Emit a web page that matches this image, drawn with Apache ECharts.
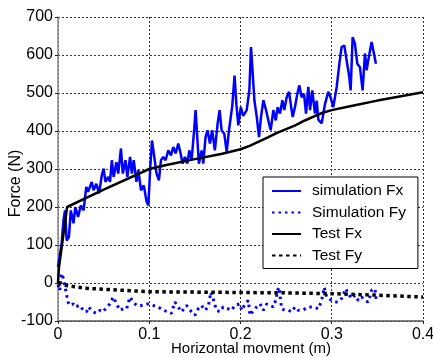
<!DOCTYPE html>
<html>
<head>
<meta charset="utf-8">
<script src="https://cdn.jsdelivr.net/npm/echarts@6/dist/echarts.min.js"></script>
<style>
  html, body { margin: 0; padding: 0; background: #fff; }
  #chart { width: 433px; height: 358px; }
</style>
</head>
<body>
<div id="chart"></div>
<script>
// Horizontal movement (m) and measured / simulated forces (N)
var simFxX = [0.000,0.004,0.006,0.0077,0.0095,0.012,0.014,0.017,0.019,0.022,0.025,0.028,0.031,0.033,0.037,0.039,0.042,0.045,0.048,0.050,0.052,0.055,0.057,0.059,0.061,0.064,0.066,0.069,0.071,0.074,0.076,0.079,0.081,0.083,0.086,0.088,0.091,0.094,0.097,0.099,0.101,0.103,0.1055,0.108,0.1106,0.1128,0.1154,0.1179,0.1209,0.1238,0.1263,0.1289,0.1318,0.1344,0.1365,0.1391,0.1417,0.1439,0.1464,0.149,0.1508,0.1526,0.1544,0.1574,0.1592,0.1617,0.1639,0.1665,0.169,0.1719,0.1749,0.1771,0.1793,0.1822,0.1849,0.1873,0.1909,0.1935,0.1955,0.1976,0.2003,0.203,0.2068,0.2097,0.2115,0.2134,0.2152,0.2178,0.2203,0.2225,0.2251,0.228,0.2305,0.2331,0.236,0.2386,0.2407,0.2433,0.2459,0.248,0.2506,0.2532,0.255,0.2572,0.2597,0.2623,0.2645,0.267,0.2696,0.2718,0.2743,0.2762,0.2787,0.2816,0.2835,0.2853,0.289,0.2925,0.2962,0.2985,0.3017,0.3054,0.3085,0.3108,0.3138,0.3163,0.3192,0.3207,0.3229,0.3254,0.328,0.3309,0.3338,0.3364,0.3382,0.34,0.3437,0.3462,0.3484];
var simFxY = [42,104,165,191,112,121,191,157,200,174,204,191,253,240,266,244,261,236,283,301,266,279,266,323,279,318,288,354,288,323,279,332,288,323,266,297,244,257,215,204,300,375,332,288,270,323,332,323,349,336,358,341,367,341,314,332,314,349,323,397,455,384,314,349,314,384,402,367,402,349,419,455,402,393,345,400,465,546,470,415,463,440,455,507,621,551,481,437,384,437,481,455,428,402,455,428,463,446,481,455,489,503,472,437,463,498,520,489,498,446,516,455,507,446,480,430,420,470,503,490,463,516,580,621,625,586,542,507,647,630,577,568,507,604,560,586,634,604,577];

var simFyX = [0.000,0.002,0.0037,0.0055,0.0077,0.0095,0.011,0.013,0.0168,0.0186,0.024,0.0277,0.0314,0.0332,0.0387,0.0423,0.046,0.0496,0.0533,0.0569,0.0606,0.0642,0.0679,0.0715,0.0752,0.0788,0.0825,0.0861,0.0916,0.097,0.1007,0.1044,0.1098,0.1153,0.1208,0.1244,0.1281,0.1317,0.1354,0.1409,0.1463,0.15,0.1536,0.1573,0.1609,0.1646,0.1675,0.17,0.1737,0.1774,0.181,0.1865,0.1902,0.1938,0.1993,0.2013,0.205,0.2086,0.2104,0.2141,0.2177,0.2214,0.225,0.2287,0.2323,0.236,0.2385,0.2407,0.2422,0.2451,0.2488,0.2524,0.2561,0.2597,0.2634,0.267,0.2707,0.2743,0.2798,0.2853,0.2889,0.2918,0.2944,0.2998,0.3035,0.3072,0.3108,0.3152,0.3181,0.3218,0.3254,0.3291,0.3327,0.3364,0.34,0.3437,0.3473,0.349];
var simFyY = [-5,-20,25,15,-10,-32,-50,-59,-55,-63,-59,-72,-76,-63,-76,-80,-72,-76,-63,-55,-37,-55,-72,-68,-68,-37,-50,-59,-59,-55,-55,-59,-63,-72,-76,-80,-50,-63,-76,-59,-76,-85,-68,-59,-72,-63,-24,-41,-72,-76,-63,-68,-72,-59,-55,-72,-55,-46,-85,-72,-63,-55,-72,-55,-59,-63,-46,-19,-11,-68,-72,-72,-76,-63,-72,-72,-68,-63,-63,-68,-46,-11,-37,-46,-50,-50,-41,-15,-28,-41,-32,-46,-37,-46,-50,-19,-15,-50];

var testFxX = [0, 0.001, 0.01, 0.05, 0.1, 0.12, 0.15, 0.18, 0.2, 0.21, 0.22, 0.23, 0.24, 0.25, 0.26, 0.27, 0.28, 0.29, 0.3, 0.32, 0.35, 0.4];
var testFxY = [0, 40, 200, 246, 300, 311, 326, 340, 352, 361, 372, 383, 395, 405, 415, 427, 438, 448, 455, 465, 480, 502];

var testFyX = [0, 0.01, 0.03, 0.07, 0.1, 0.2, 0.25, 0.3, 0.35, 0.4];
var testFyY = [0, -7, -14, -19, -23, -25, -26, -28, -32, -37];

var xTicks = [0, 0.1, 0.2, 0.3, 0.4];
var yTicks = [-100, 0, 100, 200, 300, 400, 500, 600, 700];

var seriesNames = ['simulation Fx', 'Simulation Fy', 'Test Fx', 'Test Fy'];

function pairs(xs, ys) {
  return xs.map(function (x, i) { return [x, ys[i]]; });
}

var FONT = '"Liberation Sans", Arial, sans-serif';
var chart = echarts.init(document.getElementById('chart'), null, { renderer: 'canvas' });

var gridLine = { show: true, lineStyle: { color: '#333', width: 1, type: [2, 2] } };

chart.setOption({
  animation: false,
  backgroundColor: '#fff',
  grid: { left: 58, right: 10, top: 17, bottom: 37, containLabel: false, outerBoundsMode: 'none' },
  xAxis: {
    type: 'value',
    min: xTicks[0],
    max: xTicks[xTicks.length - 1],
    interval: 0.1,
    axisLine: { show: true, onZero: false, lineStyle: { color: '#555', width: 1.5 } },
    axisTick: { show: true, length: 3, lineStyle: { color: '#222' } },
    axisLabel: { color: '#000', fontSize: 16, fontFamily: FONT, margin: 6,
      formatter: function (v) { return String(Math.round(v * 10) / 10); } },
    splitLine: gridLine
  },
  yAxis: {
    type: 'value',
    min: yTicks[0],
    max: yTicks[yTicks.length - 1],
    interval: 100,
    axisLine: { show: true, onZero: false, lineStyle: { color: '#888', width: 1.5 } },
    axisTick: { show: true, length: 3, lineStyle: { color: '#222' } },
    axisLabel: { color: '#000', fontSize: 16, fontFamily: FONT, margin: 5 },
    splitLine: gridLine
  },
  legend: {
    data: seriesNames,
    orient: 'vertical',
    left: 263,
    top: 177,
    padding: [6, 12, 5, 8],
    itemGap: 5.5,
    itemWidth: 29,
    itemHeight: 14,
    backgroundColor: '#fff',
    borderColor: '#000',
    borderWidth: 1,
    borderRadius: 0,
    itemStyle: { opacity: 0 },
    textStyle: { color: '#000', fontSize: 15.5, fontFamily: FONT, padding: [0, 0, 0, 6], lineHeight: 14 }
  },
  graphic: [
    {
      type: 'text',
      x: 16, y: 183.5,
      rotation: Math.PI / 2,
      style: { text: 'Force (N)', fill: '#000', font: '16px ' + FONT, align: 'center', verticalAlign: 'middle' }
    },
    {
      type: 'text',
      x: 251, y: 349,
      style: { text: 'Horizontal movment (m)', fill: '#000', font: '15px ' + FONT, align: 'center', verticalAlign: 'middle' }
    }
  ],
  series: [
    {
      name: seriesNames[0], type: 'line', symbol: 'none', z: 3,
      data: pairs(simFxX, simFxY),
      lineStyle: { color: '#0000ff', width: 2.5 },
      itemStyle: { color: '#0000ff' }
    },
    {
      name: seriesNames[1], type: 'line', symbol: 'none', z: 3,
      data: pairs(simFyX, simFyY),
      lineStyle: { color: '#0000ff', width: 3, type: [2.5, 4] },
      itemStyle: { color: '#0000ff' }
    },
    {
      name: seriesNames[2], type: 'line', symbol: 'none', z: 4,
      data: pairs(testFxX, testFxY),
      lineStyle: { color: '#000', width: 2.5 },
      itemStyle: { color: '#000' }
    },
    {
      name: seriesNames[3], type: 'line', symbol: 'none', z: 4,
      data: pairs(testFyX, testFyY),
      lineStyle: { color: '#000', width: 3.5, type: [3.5, 3.5] },
      itemStyle: { color: '#000' }
    }
  ]
});
</script>
</body>
</html>
